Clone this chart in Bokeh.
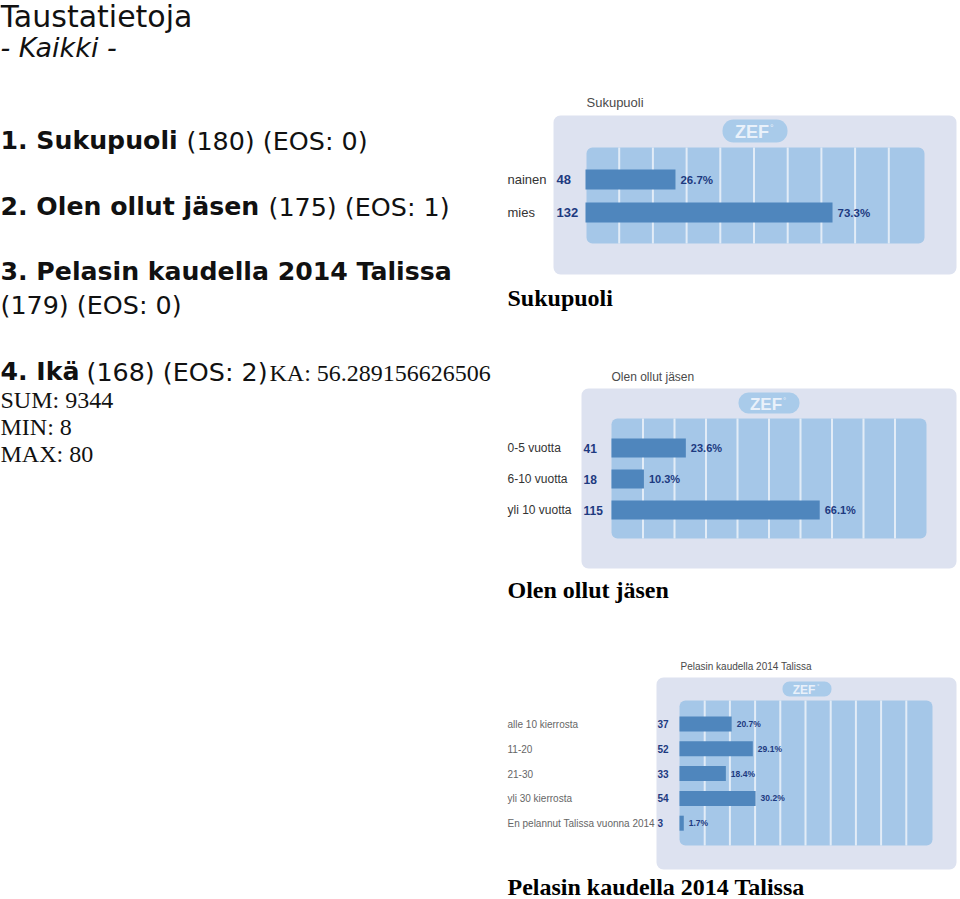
from bokeh.plotting import figure
from bokeh.models import Range1d
from bokeh.core.properties import value
from bokeh.embed import file_html
from bokeh.resources import INLINE

# ---------------- data ----------------
page_title = "Taustatietoja"
page_subtitle = "- Kaikki -"

q1_title = "Sukupuoli"
q1_categories = ["nainen", "mies"]
q1_counts = [48, 132]
q1_percents = [26.7, 73.3]

q2_title = "Olen ollut jäsen"
q2_categories = ["0-5 vuotta", "6-10 vuotta", "yli 10 vuotta"]
q2_counts = [41, 18, 115]
q2_percents = [23.6, 10.3, 66.1]

q3_title = "Pelasin kaudella 2014 Talissa"
q3_categories = ["alle 10 kierrosta", "11-20", "21-30", "yli 30 kierrosta",
                 "En pelannut Talissa vuonna 2014"]
q3_counts = [37, 52, 33, 54, 3]
q3_percents = [20.7, 29.1, 18.4, 30.2, 1.7]

header_bold = ["1. Sukupuoli", "2. Olen ollut jäsen", "3. Pelasin kaudella 2014 Talissa", "4. Ikä"]
header_rest = ["(180) (EOS: 0)", "(175) (EOS: 1)", "(179) (EOS: 0)", "(168) (EOS: 2)"]
age_stats = ["KA: 56.289156626506", "SUM: 9344", "MIN: 8", "MAX: 80"]

grid_ticks = [10, 20, 30, 40, 50, 60, 70, 80, 90]

# ---------------- styles ----------------
SANS = value("DejaVu Sans")
ARIAL = value("Liberation Sans")
SERIF = value("Liberation Serif")
PANEL = "#dde2f0"
GRID = "#a5c7e8"
GAP = "#e2ecf7"
BAR = "#4f86bd"
NAVY = "#1d3a80"
PILL = "#a9cbea"

W, H = 960, 899
p = figure(width=W, height=H, x_range=Range1d(0, W), y_range=Range1d(H, 0),
           output_backend="svg", toolbar_location=None, min_border=0,
           x_axis_location=None, y_axis_location=None)
p.grid.visible = False
p.outline_line_color = None
p.background_fill_color = "white"

# ---------------- left text ----------------
p.text(x=[0], y=[16], text=[page_title], text_font=SANS, text_font_size="30px",
       text_color="#111111", text_baseline="middle")
p.text(x=[0], y=[47], text=[page_subtitle], text_font=SANS, text_font_size="27px",
       text_font_style="italic", text_color="#111111", text_baseline="middle")

p.text(x=[0, 0, 0, 0], y=[140, 206, 271, 371], text=header_bold, text_font=SANS,
       text_font_size="25.2px", text_font_style="bold", text_color="#111111",
       text_baseline="middle")
p.text(x=[186, 268, 0, 86], y=[140, 206, 304, 371], text=header_rest, text_font=SANS,
       text_font_size="25.4px", text_color="#111111", text_baseline="middle")
p.text(x=[269, 0, 0, 0], y=[372, 399, 426, 453], text=age_stats, text_font=SERIF,
       text_font_size="24px", text_color="#111111", text_baseline="middle")


# ---------------- charts ----------------
def draw_chart(name, title, cats, counts, pcts, cfg):
    a, b = cfg["axis"]
    s = 100.0 / (b - a)
    p.extra_x_ranges[name] = Range1d(-a * s, (W - a) * s)

    px0, px1, py0, py1 = cfg["panel"]
    p.quad(left=[px0], right=[px1], top=[py0], bottom=[py1], fill_color=PANEL,
           line_color=None, border_radius=7)
    bx0, bx1, by0, by1 = cfg["badge"]
    p.quad(left=[bx0], right=[bx1], top=[by0], bottom=[by1], fill_color=PILL,
           line_color=None, border_radius=int((by1 - by0) // 2))
    cx, cy = (bx0 + bx1) / 2, (by0 + by1) / 2
    p.text(x=[cx - 3], y=[cy + 1], text=["ZEF"], text_font=ARIAL,
           text_font_size=cfg["zef_size"], text_font_style="bold",
           text_color="#e9f1fa", text_align="center", text_baseline="middle")
    p.text(x=[cx + cfg["deg_dx"]], y=[cy - 3], text=["°"], text_font=ARIAL,
           text_font_size=cfg["deg_size"], text_color="#e9f1fa",
           text_align="left", text_baseline="middle")

    gx0, gx1, gy0, gy1 = cfg["grid"]
    p.quad(left=[gx0], right=[gx1], top=[gy0], bottom=[gy1], fill_color=GRID,
           line_color=None, border_radius=6)
    p.segment(x0=grid_ticks, x1=grid_ticks, y0=[gy0] * len(grid_ticks),
              y1=[gy1] * len(grid_ticks), line_color=GAP, line_width=2,
              x_range_name=name)

    ys = [cfg["row0"] + i * cfg["step"] for i in range(len(cats))]
    p.hbar(y=ys, left=0, right=pcts, height=cfg["bar_h"], fill_color=BAR,
           line_color=None, x_range_name=name)

    p.text(x=[cfg["title_x"]], y=[cfg["title_y"]], text=[title], text_font=ARIAL,
           text_font_size=cfg["title_size"], text_color="#4a4a4a",
           text_baseline="middle")
    p.text(x=[507] * len(cats), y=ys, text=cats, text_font=ARIAL,
           text_font_size=cfg["lab_size"], text_color=cfg["lab_color"],
           text_baseline="middle")
    p.text(x=[cfg["count_x"]] * len(cats), y=ys, text=[str(c) for c in counts],
           text_font=ARIAL, text_font_size=cfg["lab_size"], text_font_style="bold",
           text_color=NAVY, text_baseline="middle")
    p.text(x=pcts, y=ys, text=[f"{v:.1f}%" for v in pcts], text_font=ARIAL,
           text_font_size=cfg["pct_size"], text_font_style="bold", text_color=NAVY,
           text_baseline="middle", x_offset=5, x_range_name=name)

    p.text(x=[507], y=[cfg["cap_y"]], text=[title], text_font=SERIF,
           text_font_size="24px", text_font_style="bold", text_color="#000000",
           text_baseline="middle")


draw_chart("c1", q1_title, q1_categories, q1_counts, q1_percents, dict(
    axis=(585, 922), panel=(553, 956, 115, 274), badge=(722, 787, 119, 142),
    grid=(586, 924, 147, 243), row0=179, step=33, bar_h=20,
    title_x=586, title_y=102, title_size="13px", lab_size="13px",
    lab_color="#333333", count_x=556, pct_size="11.5px", cap_y=297,
    zef_size="18px", deg_size="9px", deg_dx=15))

draw_chart("c2", q2_title, q2_categories, q2_counts, q2_percents, dict(
    axis=(611, 926), panel=(581, 956, 388, 568), badge=(738, 799, 392, 413),
    grid=(611, 926, 418, 538), row0=447.5, step=31, bar_h=19,
    title_x=611, title_y=376, title_size="12px", lab_size="12px",
    lab_color="#333333", count_x=583, pct_size="11px", cap_y=589.5,
    zef_size="17px", deg_size="8px", deg_dx=14))

draw_chart("c3", q3_title, q3_categories, q3_counts, q3_percents, dict(
    axis=(679, 931), panel=(656, 956, 677, 869), badge=(782, 831, 681, 696),
    grid=(679, 932, 700, 845), row0=723.5, step=24.8, bar_h=15,
    title_x=680, title_y=666, title_size="10px", lab_size="10px",
    lab_color="#666666", count_x=657, pct_size="8.5px", cap_y=886,
    zef_size="12px", deg_size="6px", deg_dx=10))

open("out.html", "w").write(file_html(p, INLINE))
